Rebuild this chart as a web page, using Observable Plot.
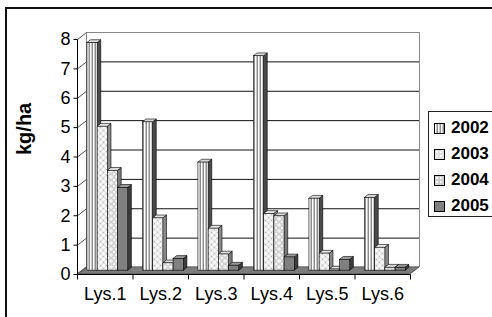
<!DOCTYPE html>
<html><head><meta charset="utf-8">
<script src="https://cdn.jsdelivr.net/npm/d3@7"></script>
<script src="https://cdn.jsdelivr.net/npm/@observablehq/plot@0.6"></script>
<style>
html,body{margin:0;padding:0;background:#fff;}
#wrap{position:relative;width:492px;height:317px;overflow:hidden;font-family:Arial,"Liberation Sans",sans-serif;}
#border{position:absolute;left:5px;top:7px;width:600px;height:400px;border:2px solid #111;}
#chart{position:absolute;left:0;top:0;}
#legend{position:absolute;left:428px;top:111px;width:90px;height:104px;border:1px solid #222;background:#fff;}
.item{position:absolute;left:5px;height:20px;display:flex;align-items:center;font-weight:bold;font-size:17px;color:#000;}
.sw{width:9px;height:9px;border:1px solid #000;margin-right:6px;box-sizing:content-box;}
</style></head>
<body>
<div id="wrap"><div id="border"></div><div id="chart"></div><div id="legend"></div></div>
<script>
const categories = ["Lys.1", "Lys.2", "Lys.3", "Lys.4", "Lys.5", "Lys.6"];
const years = ["2002", "2003", "2004", "2005"];
const v2002 = [7.75, 5.05, 3.68, 7.3, 2.45, 2.48];
const v2003 = [4.9, 1.78, 1.43, 1.93, 0.58, 0.78];
const v2004 = [3.4, 0.25, 0.55, 1.85, 0.04, 0.1];
const v2005 = [2.82, 0.4, 0.17, 0.45, 0.37, 0.1];
const yTicks = [0, 1, 2, 3, 4, 5, 6, 7, 8];

const series = [v2002, v2003, v2004, v2005];
const frontFill = ["url(#p2002)", "url(#p2003)", "url(#p2004)", "#808080"];
const sideFill = ["#4a4a4a", "#8a8a8a", "#7a7a7a", "#3c3c3c"];
const topFill = ["#d8d8d8", "#e4e4e4", "#dcdcdc", "#9a9a9a"];

// depth of the 3-D box, in data units of x (categories) and y (kg/ha)
const DX = 9 / 55.5, DY = 7 / 29.375;
const FB = 0.45, T = 0.4, OFF = 0.09, BW = 0.184;

const bars = [];
series.forEach((vals, k) => vals.forEach((v, i) => {
  const xl = i + OFF + k * BW - FB * DX;
  const yb = -FB * DY;
  bars.push({k, i, v, id: k * 10 + i, xl, xr: xl + BW, yb, yt: v + yb});
}));
const sidePts = bars.flatMap(b => [
  {id: b.id, f: sideFill[b.k], x: b.xr, y1: b.yb, y2: b.yt},
  {id: b.id, f: sideFill[b.k], x: b.xr + T * DX, y1: b.yb + T * DY, y2: b.yt + T * DY}
]);
const topPts = bars.flatMap(b => [
  {id: b.id, f: topFill[b.k], y: b.yt, x1: b.xl, x2: b.xr},
  {id: b.id, f: topFill[b.k], y: b.yt + T * DY, x1: b.xl + T * DX, x2: b.xr + T * DX}
]);
const floorPts = [
  {y: 0, x1: 0, x2: categories.length},
  {y: -DY, x1: -DX, x2: categories.length - DX}
];
const bounds = d3.range(categories.length + 1);
const n = categories.length;

const marks = [
  // floor
  Plot.areaX(floorPts, {y: "y", x1: "x1", x2: "x2", fill: "#7c7c7c", stroke: "#333", strokeWidth: 0.7}),
  // back wall gridlines
  Plot.ruleY(yTicks.filter(t => t > 0 && t < 8), {x1: 0, x2: n, stroke: "#111", strokeWidth: 1}),
  Plot.ruleY([8], {x1: 0, x2: n, stroke: "#888", strokeWidth: 1}),
  Plot.ruleX([0, n], {y1: 0, y2: 8, stroke: "#888", strokeWidth: 1}),
  // side wall diagonals
  Plot.link(yTicks, {x1: -DX, y1: d => d - DY, x2: 0, y2: d => d, stroke: "#555", strokeWidth: 1}),
  // front y axis
  Plot.link([0], {x1: -DX, y1: -DY, x2: -DX, y2: 8 - DY, stroke: "#000", strokeWidth: 1}),
  Plot.link(yTicks, {x1: -DX, y1: d => d - DY, x2: -DX - 4 / 55.5, y2: d => d - DY, stroke: "#000", strokeWidth: 1}),
  Plot.text(yTicks, {x: -DX, y: d => d - DY, text: d => String(d), textAnchor: "end", dx: -7, fontSize: 18, fill: "#000"}),
  // front x axis
  Plot.link([0], {x1: -DX, y1: -DY, x2: n - DX, y2: -DY, stroke: "#000", strokeWidth: 1}),
  Plot.link(bounds, {x1: d => d - DX, y1: -DY, x2: d => d - DX, y2: -DY - 5 / 29.375, stroke: "#000", strokeWidth: 1}),
  Plot.text(categories, {x: (d, i) => i + 0.5 - DX, y: -DY, text: d => d, dy: 20, fontSize: 18, fill: "#000"}),
  // bars: sides, tops, fronts
  Plot.areaY(sidePts, {x: "x", y1: "y1", y2: "y2", z: "id", fill: "f", stroke: "#000", strokeWidth: 0.6}),
  Plot.areaX(topPts, {y: "y", x1: "x1", x2: "x2", z: "id", fill: "f", stroke: "#000", strokeWidth: 0.6}),
  ...series.map((vals, k) => Plot.rect(bars.filter(b => b.k === k), {
    x1: "xl", x2: "xr", y1: "yb", y2: "yt", fill: frontFill[k], stroke: "#000", strokeWidth: 0.6
  })),
  // y label
  Plot.text([0], {frameAnchor: "left", text: () => "kg/ha", rotate: -90, dx: -62, dy: 5, fontWeight: "bold", fontSize: 20, fill: "#000"})
];

const svg = Plot.plot({
  width: 492, height: 317,
  marginLeft: 86, marginRight: 73, marginTop: 32, marginBottom: 50,
  x: {type: "linear", domain: [0, n], axis: null},
  y: {domain: [0, 8], axis: null},
  color: {type: "identity"},
  style: {fontFamily: "Arial, 'Liberation Sans', sans-serif", background: "transparent", overflow: "visible"},
  marks
});

const defs = `
<pattern id="p2002" patternUnits="userSpaceOnUse" width="3" height="4">
  <rect width="3" height="4" fill="#ffffff"/>
  <rect x="1" width="1" height="4" fill="#c8c8c8"/>
  <rect x="2" width="1" height="4" fill="#8c8c8c"/>
</pattern>
<pattern id="p2003" patternUnits="userSpaceOnUse" width="6" height="6">
  <rect width="6" height="6" fill="#e6e6e6"/>
  <circle cx="1.5" cy="1.5" r="1.3" fill="#ffffff"/>
  <circle cx="4.5" cy="4.5" r="1.3" fill="#ffffff"/>
  <rect x="4" y="1" width="1" height="1" fill="#b4b4b4"/>
  <rect x="1" y="4" width="1" height="1" fill="#b4b4b4"/>
</pattern>
<pattern id="p2004" patternUnits="userSpaceOnUse" width="6" height="6">
  <rect width="6" height="6" fill="#d2d2d2"/>
  <circle cx="3" cy="3" r="1.8" fill="#f4f4f4"/>
  <circle cx="0" cy="0" r="1.2" fill="#f4f4f4"/>
  <circle cx="6" cy="6" r="1.2" fill="#f4f4f4"/>
  <circle cx="0" cy="6" r="1.2" fill="#f4f4f4"/>
  <circle cx="6" cy="0" r="1.2" fill="#f4f4f4"/>
</pattern>`;
const d = document.createElementNS("http://www.w3.org/2000/svg", "defs");
d.innerHTML = defs;
svg.insertBefore(d, svg.firstChild);
document.getElementById("chart").appendChild(svg);

// legend
const swatchBg = [
  "repeating-linear-gradient(90deg,#fff 0 1px,#c8c8c8 1px 2px,#8c8c8c 2px 3px)",
  "radial-gradient(circle at 2px 2px,#fff 1px,#e0e0e0 1.6px) 0 0/4px 4px",
  "radial-gradient(circle at 2px 2px,#f4f4f4 1px,#cfcfcf 1.6px) 0 0/4px 4px",
  "#808080"
];
const legend = document.getElementById("legend");
years.forEach((y, k) => {
  const it = document.createElement("div");
  it.className = "item";
  it.style.top = (6 + k * 26) + "px";
  const sw = document.createElement("div");
  sw.className = "sw";
  sw.style.background = swatchBg[k];
  it.appendChild(sw);
  it.appendChild(document.createTextNode(y));
  legend.appendChild(it);
});
</script>
</body></html>
